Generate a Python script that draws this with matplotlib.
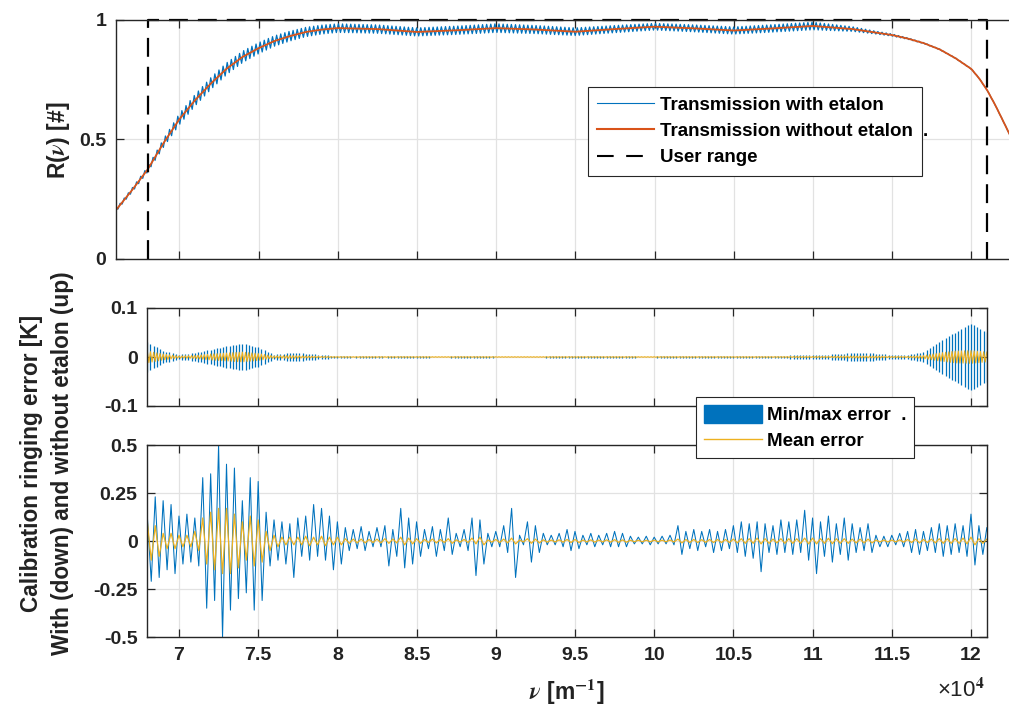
import numpy as np
import matplotlib
matplotlib.use('Agg')
import matplotlib.pyplot as plt
from matplotlib.patches import Patch
from matplotlib.lines import Line2D

plt.rcParams['font.family'] = ['Liberation Sans', 'DejaVu Sans']
plt.rcParams['font.weight'] = 'bold'
plt.rcParams['mathtext.fontset'] = 'stix'

BLUE = '#0072BD'
ORANGE = '#D95319'
YELLOW = '#EDB120'
AXC = '#262626'

# ---------------- data (wavenumber in units of 1e4 m^-1) ----------------
# top panel: transmission without etalon (smooth curve)
trans_x = [6.60, 6.70, 6.80, 6.90, 7.00, 7.10, 7.20, 7.30, 7.40, 7.50, 7.60, 7.70,
           7.80, 7.90, 8.00, 8.25, 8.50, 8.75, 9.00, 9.25, 9.50, 9.75, 10.00,
           10.25, 10.50, 10.75, 11.00, 11.25, 11.50, 11.60, 11.70, 11.80, 11.90,
           12.00, 12.05, 12.10, 12.15, 12.20, 12.25, 12.30]
trans_R = [0.205, 0.287, 0.375, 0.485, 0.585, 0.665, 0.735, 0.797, 0.846, 0.882, 0.912, 0.933,
           0.950, 0.960, 0.966, 0.962, 0.950, 0.957, 0.966, 0.960, 0.951, 0.962, 0.972,
           0.965, 0.956, 0.965, 0.975, 0.962, 0.937, 0.922, 0.903, 0.877, 0.840,
           0.795, 0.755, 0.706, 0.645, 0.578, 0.510, 0.440]
# etalon fringe half-amplitude envelope and fringe period (~19 fringes per 0.5e4 m^-1)
etalon_x = [6.60, 6.80, 6.90, 7.00, 7.25, 7.50, 7.75, 8.00, 8.50, 9.00, 9.50, 10.00,
            10.50, 11.00, 11.20, 11.40, 11.60, 11.80, 12.30]
etalon_amp = [0.006, 0.011, 0.017, 0.023, 0.025, 0.023, 0.020, 0.018, 0.017, 0.018, 0.016, 0.014,
              0.015, 0.016, 0.011, 0.006, 0.003, 0.0015, 0.001]
fringe_period = 0.026
user_range = [6.80, 12.10]

# middle panel: ringing error without etalon, envelope every 0.1
mid_x = [round(6.8 + 0.1 * i, 2) for i in range(54)]
mid_amp = [0.031, 0.012, 0.005, 0.008, 0.015, 0.022, 0.027, 0.020, 0.005, 0.008,
           0.007, 0.004, 0.002, 0.001, 0.002, 0.001, 0.002, 0.002, 0.001, 0.001,
           0.002, 0.002, 0.001, 0.001, 0.001, 0.001, 0.002, 0.002, 0.003, 0.002,
           0.002, 0.001, 0.001, 0.002, 0.002, 0.002, 0.002, 0.003, 0.002, 0.003,
           0.002, 0.004, 0.004, 0.005, 0.007, 0.008, 0.007, 0.004, 0.004, 0.010,
           0.030, 0.050, 0.068, 0.050]
mid_mean = [0.012, 0.006, 0.002, 0.003, 0.006, 0.008, 0.010, 0.007, 0.002, 0.003,
            0.002, 0.001, 0.0005, 0.0005, 0.0005, 0.0005, 0.0005, 0.0005, 0.0005, 0.0005,
            0.0005, 0.0005, 0.0005, 0.0005, 0.0005, 0.0005, 0.0005, 0.0005, 0.0005, 0.0005,
            0.0005, 0.0005, 0.0005, 0.0005, 0.0005, 0.0005, 0.0005, 0.0005, 0.0005, 0.0005,
            0.0005, 0.001, 0.001, 0.001, 0.002, 0.002, 0.002, 0.001, 0.001, 0.003,
            0.008, 0.012, 0.013, 0.010]

# bottom panel: ringing error with etalon, every 0.05
bot_x = [round(6.80 + 0.05 * i, 2) for i in range(107)]
bot_max = [0.13, 0.23, 0.21, 0.19, 0.13, 0.14, 0.12, 0.33, 0.35, 0.50,
           0.40, 0.38, 0.21, 0.33, 0.31, 0.15, 0.11, 0.10, 0.09, 0.12,
           0.13, 0.19, 0.17, 0.13, 0.10, 0.07, 0.06, 0.075, 0.05, 0.07,
           0.08, 0.06, 0.17, 0.12, 0.10, 0.06, 0.075, 0.06, 0.12, 0.04,
           0.06, 0.12, 0.11, 0.04, 0.05, 0.08, 0.17, 0.03, 0.10, 0.08,
           0.04, 0.03, 0.04, 0.06, 0.05, 0.03, 0.04, 0.03, 0.04, 0.05,
           0.04, 0.025, 0.02, 0.025, 0.02, 0.025, 0.03, 0.08, 0.05, 0.06,
           0.05, 0.06, 0.05, 0.06, 0.08, 0.10, 0.09, 0.10, 0.09, 0.08,
           0.11, 0.10, 0.11, 0.16, 0.12, 0.10, 0.13, 0.09, 0.12, 0.09,
           0.07, 0.09, 0.03, 0.025, 0.03, 0.04, 0.05, 0.06, 0.05, 0.07,
           0.09, 0.08, 0.09, 0.08, 0.14, 0.08, 0.07]
bot_min = [-0.21, -0.19, -0.15, -0.17, -0.12, -0.11, -0.13, -0.35, -0.31, -0.50,
           -0.36, -0.30, -0.27, -0.36, -0.31, -0.13, -0.10, -0.12, -0.19, -0.08,
           -0.10, -0.08, -0.10, -0.15, -0.12, -0.05, -0.04, -0.05, -0.03, -0.03,
           -0.13, -0.08, -0.14, -0.12, -0.08, -0.04, -0.08, -0.05, -0.07, -0.03,
           -0.05, -0.18, -0.12, -0.03, -0.03, -0.06, -0.19, -0.02, -0.11, -0.06,
           -0.02, -0.02, -0.03, -0.05, -0.04, -0.02, -0.03, -0.02, -0.03, -0.03,
           -0.03, -0.015, -0.015, -0.02, -0.015, -0.015, -0.02, -0.07, -0.04, -0.05,
           -0.03, -0.06, -0.05, -0.04, -0.06, -0.08, -0.09, -0.16, -0.06, -0.07,
           -0.06, -0.07, -0.06, -0.10, -0.17, -0.08, -0.11, -0.07, -0.10, -0.06,
           -0.05, -0.06, -0.03, -0.03, -0.02, -0.03, -0.06, -0.07, -0.05, -0.06,
           -0.08, -0.07, -0.06, -0.08, -0.125, -0.07, -0.06]
bot_mean = [0.10, 0.08, 0.04, 0.04, 0.03, 0.03, 0.05, 0.12, 0.15, 0.17,
            0.17, 0.14, 0.10, 0.13, 0.11, 0.05, 0.03, 0.02, 0.02, 0.02,
            0.025, 0.02, 0.025, 0.02, 0.02, 0.012, 0.01, 0.01, 0.008, 0.01,
            0.012, 0.01, 0.02, 0.015, 0.012, 0.008, 0.01, 0.008, 0.012, 0.006,
            0.008, 0.015, 0.02, 0.006, 0.008, 0.01, 0.015, 0.005, 0.012, 0.01,
            0.006, 0.005, 0.006, 0.008, 0.008, 0.005, 0.006, 0.005, 0.006, 0.007,
            0.006, 0.004, 0.004, 0.004, 0.004, 0.004, 0.005, 0.01, 0.008, 0.008,
            0.007, 0.008, 0.008, 0.008, 0.01, 0.012, 0.012, 0.015, 0.012, 0.01,
            0.012, 0.012, 0.012, 0.015, 0.015, 0.012, 0.014, 0.012, 0.012, 0.01,
            0.01, 0.01, 0.005, 0.005, 0.005, 0.006, 0.008, 0.01, 0.008, 0.01,
            0.012, 0.012, 0.012, 0.015, 0.02, 0.012, 0.01]

xtick_vals = [7, 7.5, 8, 8.5, 9, 9.5, 10, 10.5, 11, 11.5, 12]
xtick_labels = ['7', '7.5', '8', '8.5', '9', '9.5', '10', '10.5', '11', '11.5', '12']

# ---------------- figure ----------------
W, H = 1009, 710
fig = plt.figure(figsize=(W / 100, H / 100), dpi=100)
PXU = 158.4  # pixels per 1e4 m^-1


def rect(l, t, r, b):
    return [l / W, 1 - b / H, (r - l) / W, (b - t) / H]


ax1 = fig.add_axes(rect(116, 20, 116 + 5.8 * PXU, 259))
ax2 = fig.add_axes(rect(147.3, 308, 147.3 + 5.3 * PXU, 406))
ax3 = fig.add_axes(rect(147.3, 445, 147.3 + 5.3 * PXU, 637))

for ax in (ax1, ax2, ax3):
    ax.set_axisbelow(True)
    ax.grid(True, color='#e2e2e2', lw=0.9)
    ax.tick_params(direction='in', top=True, right=True, length=6, width=0.9,
                   color=AXC, labelsize=14, pad=7, labelcolor='#222222')
    for s in ax.spines.values():
        s.set_color(AXC)
        s.set_linewidth(1.0)
    ax.set_xticks(xtick_vals)

# top panel
xf = np.arange(trans_x[0], trans_x[-1], fringe_period / 2)
sign = np.where(np.arange(len(xf)) % 2 == 0, 1.0, -1.0)
r_et = np.interp(xf, trans_x, trans_R) + sign * np.interp(xf, etalon_x, etalon_amp)
ax1.plot(xf, r_et, color=BLUE, lw=0.9)
ax1.plot(trans_x, trans_R, color=ORANGE, lw=1.3)
ax1.plot([user_range[0], user_range[0], user_range[1], user_range[1]], [0, 1, 1, 0],
         color='black', lw=1.6, ls=(0, (8.5, 4.5)), clip_on=False)
ax1.set_xlim(6.6, 12.4)
ax1.set_ylim(0, 1)
ax1.set_yticks([0, 0.5, 1])
ax1.set_yticklabels(['0', '0.5', '1'])
ax1.tick_params(labelbottom=False)

# middle panel: min/max as vertical strokes, mean as a dense zigzag
xm = np.arange(mid_x[0], mid_x[-1] + 1e-9, 0.02)
env = np.interp(xm, mid_x, mid_amp)
ax2.vlines(xm, -env, env, color=BLUE, lw=0.9)
xmm = np.arange(mid_x[0], mid_x[-1] + 1e-9, 0.01)
smm = np.where(np.arange(len(xmm)) % 2 == 0, 1.0, -1.0)
ax2.plot(xmm, smm * np.interp(xmm, mid_x, mid_mean), color=YELLOW, lw=0.8)
ax2.set_xlim(6.8, 12.1)
ax2.set_ylim(-0.1, 0.1)
ax2.set_yticks([-0.1, 0, 0.1])
ax2.set_yticklabels(['-0.1', '0', '0.1'])
ax2.tick_params(labelbottom=False)

# bottom panel: min/max and mean as alternating traces at the read positions
bx = np.array(bot_x)
zx = np.ravel(np.column_stack([bx, bx + 0.025]))
zy = np.ravel(np.column_stack([bot_max, bot_min]))
my = np.ravel(np.column_stack([bot_mean, -np.array(bot_mean)]))
ax3.plot(zx, zy, color=BLUE, lw=0.75)
ax3.plot(zx, my, color=YELLOW, lw=0.9)
ax3.set_xlim(6.8, 12.1)
ax3.set_ylim(-0.5, 0.5)
ax3.set_yticks([-0.5, -0.25, 0, 0.25, 0.5])
ax3.set_yticklabels(['-0.5', '-0.25', '0', '0.25', '0.5'])
ax3.set_xticklabels(xtick_labels)

# labels
fig.text(58 / W, 1 - 140 / H, 'R($\\nu$) [#]', rotation=90, ha='center', va='center',
         fontsize=16.5, color='#222222')
fig.text(47 / W, 1 - 463 / H,
         'Calibration ringing error [K]\nWith (down) and without etalon (up)',
         rotation=90, ha='center', va='center', multialignment='center',
         fontsize=16.3, linespacing=1.45, color='#222222')
fig.text(567 / W, 1 - 692 / H, '$\\nu$ [m$^{-1}$]', ha='center', va='center',
         fontsize=16.5, color='#222222')
fig.text(961 / W, 1 - 690 / H, '\u00d710$^{4}$', ha='center', va='center',
         fontsize=16, fontweight='normal', color='#222222')

# legends
h1 = [Line2D([], [], color=BLUE, lw=0.8),
      Line2D([], [], color=ORANGE, lw=1.5),
      Line2D([], [], color='black', lw=1.5, ls=(0, (8, 6)))]
leg1 = fig.legend(h1, ['Transmission with etalon', 'Transmission without etalon', 'User range'],
                  loc='upper left', bbox_to_anchor=(588 / W, 1 - 87 / H), borderaxespad=0,
                  fancybox=False, framealpha=1, edgecolor=AXC, fontsize=13.5,
                  handlelength=3.0, handletextpad=0.35, labelspacing=0.5, borderpad=0.5)
leg1.get_frame().set_linewidth(0.8)
fig.text(925 / W, 1 - 131 / H, '.', ha='center', va='center', fontsize=13.5)

h2 = [Patch(facecolor=BLUE, edgecolor=BLUE),
      Line2D([], [], color=YELLOW, lw=1.0)]
leg2 = fig.legend(h2, ['Min/max error  .', 'Mean error'],
                  loc='upper left', bbox_to_anchor=(696 / W, 1 - 397 / H), borderaxespad=0,
                  fancybox=False, framealpha=1, edgecolor=AXC, fontsize=13.5,
                  handlelength=3.1, handleheight=1.15, handletextpad=0.3,
                  labelspacing=0.35, borderpad=0.4)
leg2.get_frame().set_linewidth(0.8)

fig.savefig('out.png', dpi=100)
